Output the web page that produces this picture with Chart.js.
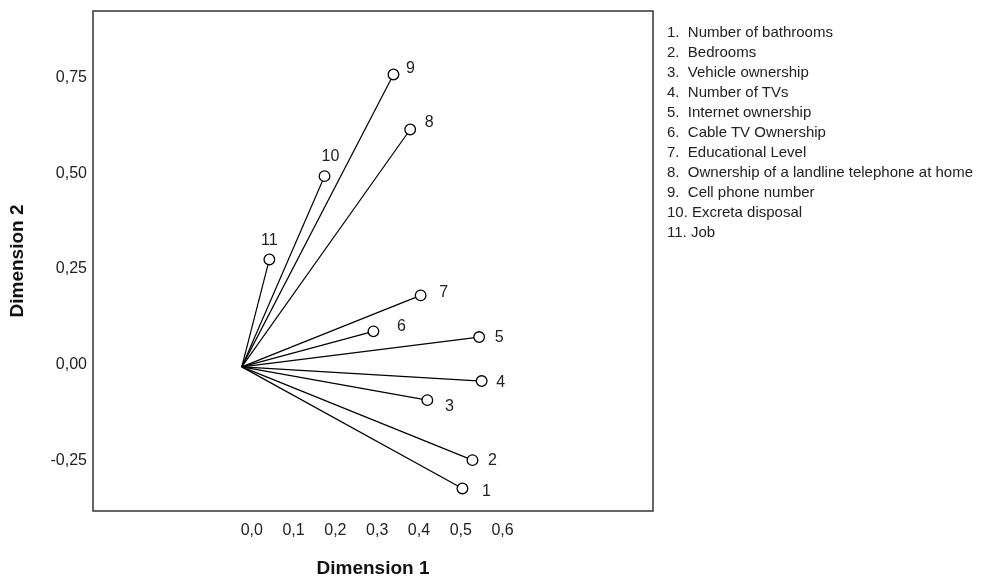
<!DOCTYPE html>
<html>
<head>
<meta charset="utf-8">
<script src="https://cdn.jsdelivr.net/npm/chart.js@4.4.1/dist/chart.umd.min.js"></script>
<style>
	html, body { margin: 0; padding: 0; background: #fff; }
	#wrap { position: relative; width: 990px; height: 576px; }
	#legend {
		position: absolute; left: 667px; top: 22px;
		font: 15px "Liberation Sans", Arial, sans-serif;
		line-height: 20px; color: #222; white-space: pre;
	}
</style>
</head>
<body>
<div id="wrap">
	<canvas id="chart" width="990" height="576"></canvas>
	<div id="legend"></div>
</div>
<script>
// component loadings
const variables = [
	"Number of bathrooms",
	"Bedrooms",
	"Vehicle ownership",
	"Number of TVs",
	"Internet ownership",
	"Cable TV Ownership",
	"Educational Level",
	"Ownership of a landline telephone at home",
	"Cell phone number",
	"Excreta disposal",
	"Job",
];
const dim1 = [0.504, 0.528, 0.420, 0.550, 0.544, 0.291, 0.404, 0.379, 0.339, 0.174, 0.042];
const dim2 = [-0.324, -0.250, -0.093, -0.043, 0.072, 0.087, 0.181, 0.615, 0.759, 0.493, 0.275];
// where the vectors start, as drawn
const origin = { x: -0.024, y: -0.006 };
const xTicks = [0, 0.1, 0.2, 0.3, 0.4, 0.5, 0.6];
const yTicks = [-0.25, 0, 0.25, 0.5, 0.75];

// pixel nudge for each number label next to its circle
const labelShift = [
	[24, 3], [20, 0], [22, 6], [19, 2], [20, 1], [28, -5],
	[23, -3], [19, -7], [17, -6], [6, -20], [0, -19],
];

const FONT = '"Liberation Sans", Arial, sans-serif';
Chart.defaults.font.family = FONT;
Chart.defaults.color = "#222";

document.getElementById("legend").textContent = variables
	.map((name, i) => (i + 1 + ".").padEnd(3) + " " + name)
	.join("\n");

function fmt(v, digits) {
	return v.toFixed(digits).replace(".", ",");
}

const vectors = dim1.map((v, i) => ({
	type: "line",
	data: [origin, { x: v, y: dim2[i] }],
	borderColor: "#000",
	borderWidth: 1.2,
	pointRadius: 0,
	order: 1,
}));

const circles = {
	type: "scatter",
	data: dim1.map((v, i) => ({ x: v, y: dim2[i] })),
	pointRadius: 5.3,
	pointBorderWidth: 1.3,
	pointBorderColor: "#000",
	pointBackgroundColor: "#fff",
	order: 0,
};

const frame = {
	id: "frame",
	beforeDraw(chart) {
		const ctx = chart.ctx;
		ctx.save();
		ctx.fillStyle = "#fff";
		ctx.fillRect(0, 0, chart.width, chart.height);
		ctx.restore();
	},
	afterDraw(chart) {
		const { ctx, chartArea: a } = chart;
		ctx.save();
		ctx.strokeStyle = "#333";
		ctx.lineWidth = 1.5;
		ctx.strokeRect(a.left, a.top, a.right - a.left, a.bottom - a.top);
		ctx.restore();
	},
};

const pointLabels = {
	id: "pointLabels",
	afterDatasetsDraw(chart) {
		const { ctx, scales: { x, y } } = chart;
		ctx.save();
		ctx.font = "16px " + FONT;
		ctx.fillStyle = "#222";
		ctx.textAlign = "center";
		ctx.textBaseline = "middle";
		dim1.forEach((v, i) => {
			const [dx, dy] = labelShift[i];
			ctx.fillText(String(i + 1), x.getPixelForValue(v) + dx, y.getPixelForValue(dim2[i]) + dy);
		});
		ctx.restore();
	},
};

new Chart(document.getElementById("chart"), {
	data: { datasets: [circles, ...vectors] },
	options: {
		responsive: false,
		animation: false,
		layout: { padding: { top: 11, right: 337, bottom: 0, left: 0 } },
		plugins: { legend: { display: false }, tooltip: { enabled: false } },
		scales: {
			x: {
				type: "linear",
				min: -0.38,
				max: 0.96,
				afterBuildTicks: (s) => { s.ticks = xTicks.map((v) => ({ value: v })); },
				afterFit: (s) => { s.height = 65; s.paddingLeft = 0; s.paddingRight = 0; },
				grid: { display: false, drawTicks: false },
				border: { display: false },
				ticks: {
					autoSkip: false, maxRotation: 0, padding: 10,
					font: { size: 16 },
					callback: (v) => fmt(v, 1),
				},
				title: {
					display: true, text: "Dimension 1", color: "#111", padding: 0,
					font: { size: 19, weight: "bold", lineHeight: 0.8 },
				},
			},
			y: {
				type: "linear",
				min: -0.383,
				max: 0.925,
				afterBuildTicks: (s) => { s.ticks = yTicks.map((v) => ({ value: v })); },
				afterFit: (s) => { s.width = 93; s.paddingTop = 0; s.paddingBottom = 0; },
				grid: { display: false, drawTicks: false },
				border: { display: false },
				ticks: {
					autoSkip: false, padding: 6,
					font: { size: 16 },
					callback: (v) => fmt(v, 2),
				},
				title: {
					display: true, text: "Dimension 2", color: "#111",
					padding: { top: 8, bottom: 0 },
					font: { size: 19, weight: "bold", lineHeight: 1 },
				},
			},
		},
	},
	plugins: [frame, pointLabels],
});
</script>
</body>
</html>
